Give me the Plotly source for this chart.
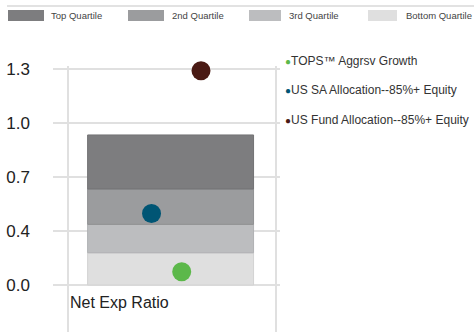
import plotly.graph_objects as go

# Quartile bands of the category distribution (lower/upper bounds)
quartile_names = ["Bottom Quartile", "3rd Quartile", "2nd Quartile", "Top Quartile"]
quartile_low = [0.0, 0.194, 0.365, 0.578]
quartile_high = [0.194, 0.365, 0.578, 0.903]
quartile_colors = ["#dfdfdf", "#bcbdbf", "#9b9c9e", "#7d7d7f"]
quartile_edges = ["#d2d2d2", "#b0b1b3", "#8f9092", "#727274"]

# Net expense ratios
series_names = ["TOPS™ Aggrsv Growth", "US SA Allocation--85%+ Equity", "US Fund Allocation--85%+ Equity"]
series_values = [0.08, 0.43, 1.29]
series_colors = ["#5cb84a", "#005574", "#4a1a14"]
series_xpos = [0.567, 0.434, 0.652]

# Y axis grid positions and their printed labels
y_tickvals = [0.0, 0.325, 0.65, 0.975, 1.3]
y_ticktext = ["0.0", "0.4", "0.7", "1.0", "1.3"]

category_label = "Net Exp Ratio"

FONT = "Liberation Sans, Arial, sans-serif"
W, H = 474, 332
L, R, T, B = 53, 194, 66, 0
PW, PH = W - L - R, H - T - B
PX_PER_UNIT = 54 / 0.325
ZERO_Y = 285  # pixel row of the zero line


def px(x):
    return (x - L) / PW


def py(y):
    return (H - B - y) / PH


fig = go.Figure()

for name, lo, hi, col, edge in zip(quartile_names, quartile_low, quartile_high,
                                   quartile_colors, quartile_edges):
    fig.add_trace(go.Bar(
        x=[0.518], y=[hi - lo], base=[lo], width=[0.731],
        marker=dict(color=col, line=dict(color=edge, width=1)),
        name=name, showlegend=False, hoverinfo="skip",
    ))

for name, v, col, xp in zip(series_names, series_values, series_colors, series_xpos):
    fig.add_trace(go.Scatter(
        x=[xp], y=[v], mode="markers", name=name, showlegend=False,
        cliponaxis=False,
        marker=dict(color=col, size=19, line=dict(width=0)),
    ))

# Top legend: swatches and labels for the quartile bands
top_swatches = [(8, 44), (128, 164), (249, 281), (368, 397)]
top_text_x = [49, 170, 287, 404]
legend_order = ["Top Quartile", "2nd Quartile", "3rd Quartile", "Bottom Quartile"]
shapes = [dict(type="line", xref="paper", yref="paper", x0=px(7), x1=px(474),
               y0=py(6), y1=py(6), line=dict(color="#e2e2e2", width=2))]
annotations = []
for (x0, x1), tx, nm in zip(top_swatches, top_text_x, legend_order):
    col = quartile_colors[quartile_names.index(nm)]
    shapes.append(dict(type="rect", xref="paper", yref="paper",
                       x0=px(x0), x1=px(x1), y0=py(21), y1=py(10),
                       fillcolor=col, line=dict(width=0)))
    annotations.append(dict(text=nm, xref="paper", yref="paper", x=px(tx), y=py(15.5),
                            xanchor="left", yanchor="middle", showarrow=False,
                            font=dict(family=FONT, size=9.5, color="#444444")))

# Right legend for the plotted points
legend_rows = [61, 90.5, 120]
for name, col, ry in zip(series_names, series_colors, legend_rows):
    annotations.append(dict(
        text=f'<span style="color:{col};font-size:10px">●</span>{name}',
        xref="paper", yref="paper", x=px(283), y=py(ry),
        xanchor="left", yanchor="middle", showarrow=False,
        font=dict(family=FONT, size=12, color="#333333")))

annotations.append(dict(text=category_label, xref="x", yref="paper", x=0.066, y=py(302),
                        xanchor="left", yanchor="middle", showarrow=False,
                        font=dict(family=FONT, size=16, color="#222222")))

y_bottom = -(H - B - ZERO_Y) / PX_PER_UNIT
y_top = (ZERO_Y - T) / PX_PER_UNIT

fig.update_layout(
    width=W, height=H,
    margin=dict(l=L, r=R, t=T, b=B, pad=0),
    paper_bgcolor="white", plot_bgcolor="white",
    barmode="overlay",
    showlegend=False,
    shapes=shapes, annotations=annotations,
    xaxis=dict(range=[0, 1], tickvals=[0.066, 0.982], showticklabels=False,
               showgrid=True, gridcolor="#e0e0e0", gridwidth=2, zeroline=False,
               showline=False, fixedrange=True),
    yaxis=dict(range=[y_bottom, y_top],
               tickvals=y_tickvals, ticktext=y_ticktext,
               showgrid=True, gridcolor="#e0e0e0", gridwidth=2, zeroline=False,
               showline=False, ticks="", ticklabelstandoff=22,
               tickfont=dict(family=FONT, size=17, color="#222222"), fixedrange=True),
    font=dict(family=FONT),
)

fig.write_html("out.html", config={"displayModeBar": False})
